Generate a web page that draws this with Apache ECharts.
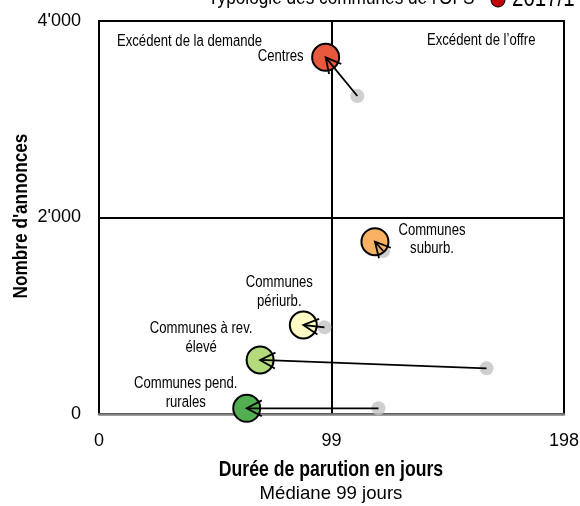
<!DOCTYPE html>
<html>
<head>
<meta charset="utf-8">
<script src="https://cdn.jsdelivr.net/npm/echarts@6/dist/echarts.min.js"></script>
<style>html,body{margin:0;padding:0;background:#fff}#c{width:580px;height:506px}</style>
</head>
<body>
<div id="c"></div>
<script>
// ---- data ----
const categories = ['Centres', 'Communes suburb.', 'Communes périurb.', 'Communes à rev. élevé', 'Communes pend. rurales'];
const labelTexts = ['Centres', 'Communes\nsuburb.', 'Communes\npériurb.', 'Communes à rev.\nélevé', 'Communes pend.\nrurales'];
const durationPrev = [110, 121, 96, 165, 119];
const listingsPrev = [3237, 1659, 882, 465, 58];
const durationCur = [96.5, 117.5, 87, 68.6, 62.9];
const listingsCur = [3630, 1754, 906, 550, 58];
const xTicks = [0, 99, 198];
const yTicks = [0, 2000, 4000];
const medianDays = 99;
const legendTitle = "Typologie des communes de l'OFS";
const legendItem = '2017/1';

// ---- styles ----
const FONT = "'Liberation Sans', Arial, sans-serif";
const NARROW = 0.82;
const colors = ['#E8583D', '#F9B264', '#FFFDC4', '#B4DB7B', '#52AE50'];
// label placement relative to current point: [dx, dy, align]
const labelLayout = [[-22, -1, 'right'], [57, -2, 'center'], [-24, -33, 'center'], [-59, -22, 'center'], [-61, -15, 'center']];

const fmt = v => String(v).replace(/\B(?=(\d{3})+(?!\d))/g, "'");

const chart = echarts.init(document.getElementById('c'), null, {renderer: 'canvas'});

const prevData = durationPrev.map((d, i) => [d, listingsPrev[i]]);
const curData = durationCur.map((d, i) => ({value: [d, listingsCur[i]], itemStyle: {color: colors[i]}}));
const arrowData = categories.map((c, i) => [durationPrev[i], listingsPrev[i], durationCur[i], listingsCur[i], i]);

function renderArrow(params, api) {
  const p0 = api.coord([api.value(0), api.value(1)]);
  const p1 = api.coord([api.value(2), api.value(3)]);
  const i = api.value(4);
  const ang = Math.atan2(p1[1] - p0[1], p1[0] - p0[0]);
  const L = 17, a = Math.PI / 6.5;
  const b1 = [p1[0] - L * Math.cos(ang - a), p1[1] - L * Math.sin(ang - a)];
  const b2 = [p1[0] - L * Math.cos(ang + a), p1[1] - L * Math.sin(ang + a)];
  const lay = labelLayout[i];
  return {
    type: 'group',
    children: [
      {type: 'line', shape: {x1: p0[0], y1: p0[1], x2: p1[0], y2: p1[1]}, style: {stroke: '#000', lineWidth: 1.8}},
      {type: 'polyline', shape: {points: [b1, p1, b2]}, style: {stroke: '#000', lineWidth: 1.8, fill: null}},
      {type: 'text', x: p1[0] + lay[0], y: p1[1] + lay[1], scaleX: NARROW,
       style: {text: labelTexts[i], fill: '#000', font: '16px ' + FONT, align: lay[2], verticalAlign: 'middle', lineHeight: 18.5}}
    ]
  };
}

function txt(x, y, text, font, align, vAlign, extra) {
  return Object.assign({type: 'text', x: x, y: y, scaleX: NARROW,
    style: {text: text, font: font, fill: '#000', align: align, verticalAlign: vAlign}}, extra || {});
}

chart.setOption({
  animation: false,
  backgroundColor: '#fff',
  grid: {left: 99, right: 16, top: 21, bottom: 92, outerBoundsMode: 'none', containLabel: false,
         show: true, borderColor: '#000', borderWidth: 2, backgroundColor: 'transparent'},
  xAxis: {
    type: 'value', min: xTicks[0], max: xTicks[xTicks.length - 1], interval: medianDays,
    axisLine: {show: true, onZero: false, lineStyle: {color: '#808080', width: 2.5}},
    axisTick: {show: false},
    splitLine: {show: true, lineStyle: {color: '#000', width: 2}},
    axisLabel: {margin: 18, color: '#000', fontSize: 18, fontFamily: FONT, showMinLabel: true, showMaxLabel: true}
  },
  yAxis: {
    type: 'value', min: yTicks[0], max: yTicks[yTicks.length - 1], interval: 2000,
    axisLine: {show: true, lineStyle: {color: '#000', width: 2}},
    axisTick: {show: false},
    splitLine: {show: true, lineStyle: {color: '#000', width: 2}},
    axisLabel: {margin: 18, color: '#000', fontSize: 18, fontFamily: FONT, formatter: fmt}
  },
  series: [
    {type: 'scatter', name: 'prev', data: prevData, symbolSize: 14, itemStyle: {color: '#C3C3C3'}, z: 2, silent: true},
    {type: 'scatter', name: 'cur', data: curData, symbolSize: 27, itemStyle: {borderColor: '#000', borderWidth: 2, opacity: 1}, z: 3, silent: true},
    {type: 'custom', name: 'arrows', data: arrowData, renderItem: renderArrow, z: 4, clip: false, silent: true,
     encode: {x: [0, 2], y: [1, 3]}}
  ],
  graphic: [
    txt(117, 42, 'Excédent de la demande', '16px ' + FONT, 'left', 'middle'),
    txt(427, 41, "Excédent de l’offre", '16px ' + FONT, 'left', 'middle'),
    txt(331, 470, 'Durée de parution en jours', 'bold 21.5px ' + FONT, 'center', 'middle'),
    txt(331, 494, 'Médiane ' + medianDays + ' jours', '19px ' + FONT, 'center', 'middle', {scaleX: 0.98}),
    txt(21, 216, "Nombre d'annonces", 'bold 21px ' + FONT, 'center', 'middle', {rotation: Math.PI / 2}),
    txt(208, 9, legendTitle, '21px ' + FONT, 'left', 'bottom'),
    {type: 'circle', shape: {cx: 498, cy: 0, r: 7}, style: {fill: '#C00000', stroke: '#000', lineWidth: 1}},
    txt(512, 12, legendItem, '25px ' + FONT, 'left', 'bottom')
  ]
});
</script>
</body>
</html>
